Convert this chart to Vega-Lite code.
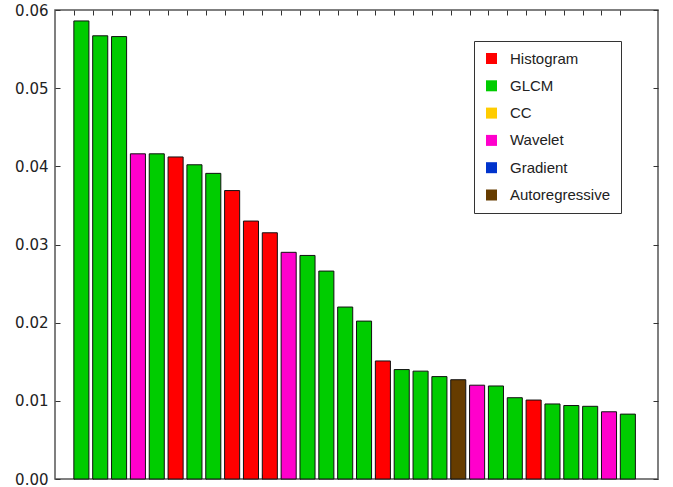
{
  "$schema": "https://vega.github.io/schema/vega-lite/v6.json",
  "width": 603,
  "height": 469,
  "autosize": {"type": "none"},
  "padding": {"left": 55, "top": 10, "right": 15, "bottom": 8},
  "config": {
    "view": {"stroke": "#555555", "strokeWidth": 1.5},
    "axis": {
      "domain": false,
      "grid": false,
      "tickColor": "#333333",
      "tickSize": -5,
      "tickWidth": 1,
      "labelFont": "DejaVu Sans",
      "labelFontSize": 15,
      "labelColor": "#222222",
      "title": null
    },
    "legend": {
      "labelFont": "Liberation Sans",
      "labelFontSize": 15,
      "labelColor": "#222222"
    }
  },
  "data": {
    "values": [
      {"rank": 0, "value": 0.0586, "feature": "GLCM"},
      {"rank": 1, "value": 0.0567, "feature": "GLCM"},
      {"rank": 2, "value": 0.0566, "feature": "GLCM"},
      {"rank": 3, "value": 0.0416, "feature": "Wavelet"},
      {"rank": 4, "value": 0.0416, "feature": "GLCM"},
      {"rank": 5, "value": 0.0412, "feature": "Histogram"},
      {"rank": 6, "value": 0.0402, "feature": "GLCM"},
      {"rank": 7, "value": 0.0391, "feature": "GLCM"},
      {"rank": 8, "value": 0.0369, "feature": "Histogram"},
      {"rank": 9, "value": 0.0330, "feature": "Histogram"},
      {"rank": 10, "value": 0.0315, "feature": "Histogram"},
      {"rank": 11, "value": 0.0290, "feature": "Wavelet"},
      {"rank": 12, "value": 0.0286, "feature": "GLCM"},
      {"rank": 13, "value": 0.0266, "feature": "GLCM"},
      {"rank": 14, "value": 0.0220, "feature": "GLCM"},
      {"rank": 15, "value": 0.0202, "feature": "GLCM"},
      {"rank": 16, "value": 0.0151, "feature": "Histogram"},
      {"rank": 17, "value": 0.0140, "feature": "GLCM"},
      {"rank": 18, "value": 0.0138, "feature": "GLCM"},
      {"rank": 19, "value": 0.0131, "feature": "GLCM"},
      {"rank": 20, "value": 0.0127, "feature": "Autoregressive"},
      {"rank": 21, "value": 0.0120, "feature": "Wavelet"},
      {"rank": 22, "value": 0.0119, "feature": "GLCM"},
      {"rank": 23, "value": 0.0104, "feature": "GLCM"},
      {"rank": 24, "value": 0.0101, "feature": "Histogram"},
      {"rank": 25, "value": 0.0096, "feature": "GLCM"},
      {"rank": 26, "value": 0.0094, "feature": "GLCM"},
      {"rank": 27, "value": 0.0093, "feature": "GLCM"},
      {"rank": 28, "value": 0.0086, "feature": "Wavelet"},
      {"rank": 29, "value": 0.0083, "feature": "GLCM"}
    ]
  },
  "layer": [
    {
      "mark": {"type": "bar", "width": 15.07, "xOffset": 7.54, "stroke": "#111111", "strokeWidth": 1},
      "encoding": {
        "x": {
          "field": "rank", "type": "quantitative",
          "scale": {"domain": [-1, 31], "nice": false, "zero": false, "padding": 0},
          "axis": {"orient": "bottom", "values": [0,1,2,3,4,5,6,7,8,9,10,11,12,13,14,15,16,17,18,19,20,21,22,23,24,25,26,27,28,29], "labels": false}
        },
        "y": {
          "field": "value", "type": "quantitative",
          "scale": {"domain": [0, 0.06], "nice": false, "padding": 0},
          "axis": {"orient": "left", "values": [0, 0.01, 0.02, 0.03, 0.04, 0.05, 0.06], "format": ".2f", "labelPadding": 12}
        },
        "color": {
          "field": "feature", "type": "nominal",
          "scale": {
            "domain": ["Histogram", "GLCM", "CC", "Wavelet", "Gradient", "Autoregressive"],
            "range": ["#ff0000", "#00cc00", "#ffcc00", "#ff00cc", "#0033cc", "#663c00"]
          },
          "legend": {
            "title": null,
            "orient": "none",
            "legendX": 419,
            "legendY": 31,
            "symbolType": "square",
            "symbolSize": 121,
            "symbolStrokeWidth": 0,
            "symbolOpacity": 1,
            "labelOffset": 11,
            "rowPadding": 11.3,
            "padding": 10,
            "strokeColor": "#333333",
            "fillColor": "#ffffff"
          }
        }
      }
    },
    {
      "mark": {"type": "bar", "width": 15.07, "xOffset": 7.54, "opacity": 0},
      "encoding": {
        "x": {
          "field": "rank", "type": "quantitative",
          "axis": {"orient": "top", "values": [0,1,2,3,4,5,6,7,8,9,10,11,12,13,14,15,16,17,18,19,20,21,22,23,24,25,26,27,28,29], "labels": false}
        },
        "y": {
          "field": "value", "type": "quantitative",
          "axis": {"orient": "right", "values": [0, 0.01, 0.02, 0.03, 0.04, 0.05, 0.06], "labels": false}
        }
      }
    }
  ],
  "resolve": {"axis": {"x": "independent", "y": "independent"}}
}
